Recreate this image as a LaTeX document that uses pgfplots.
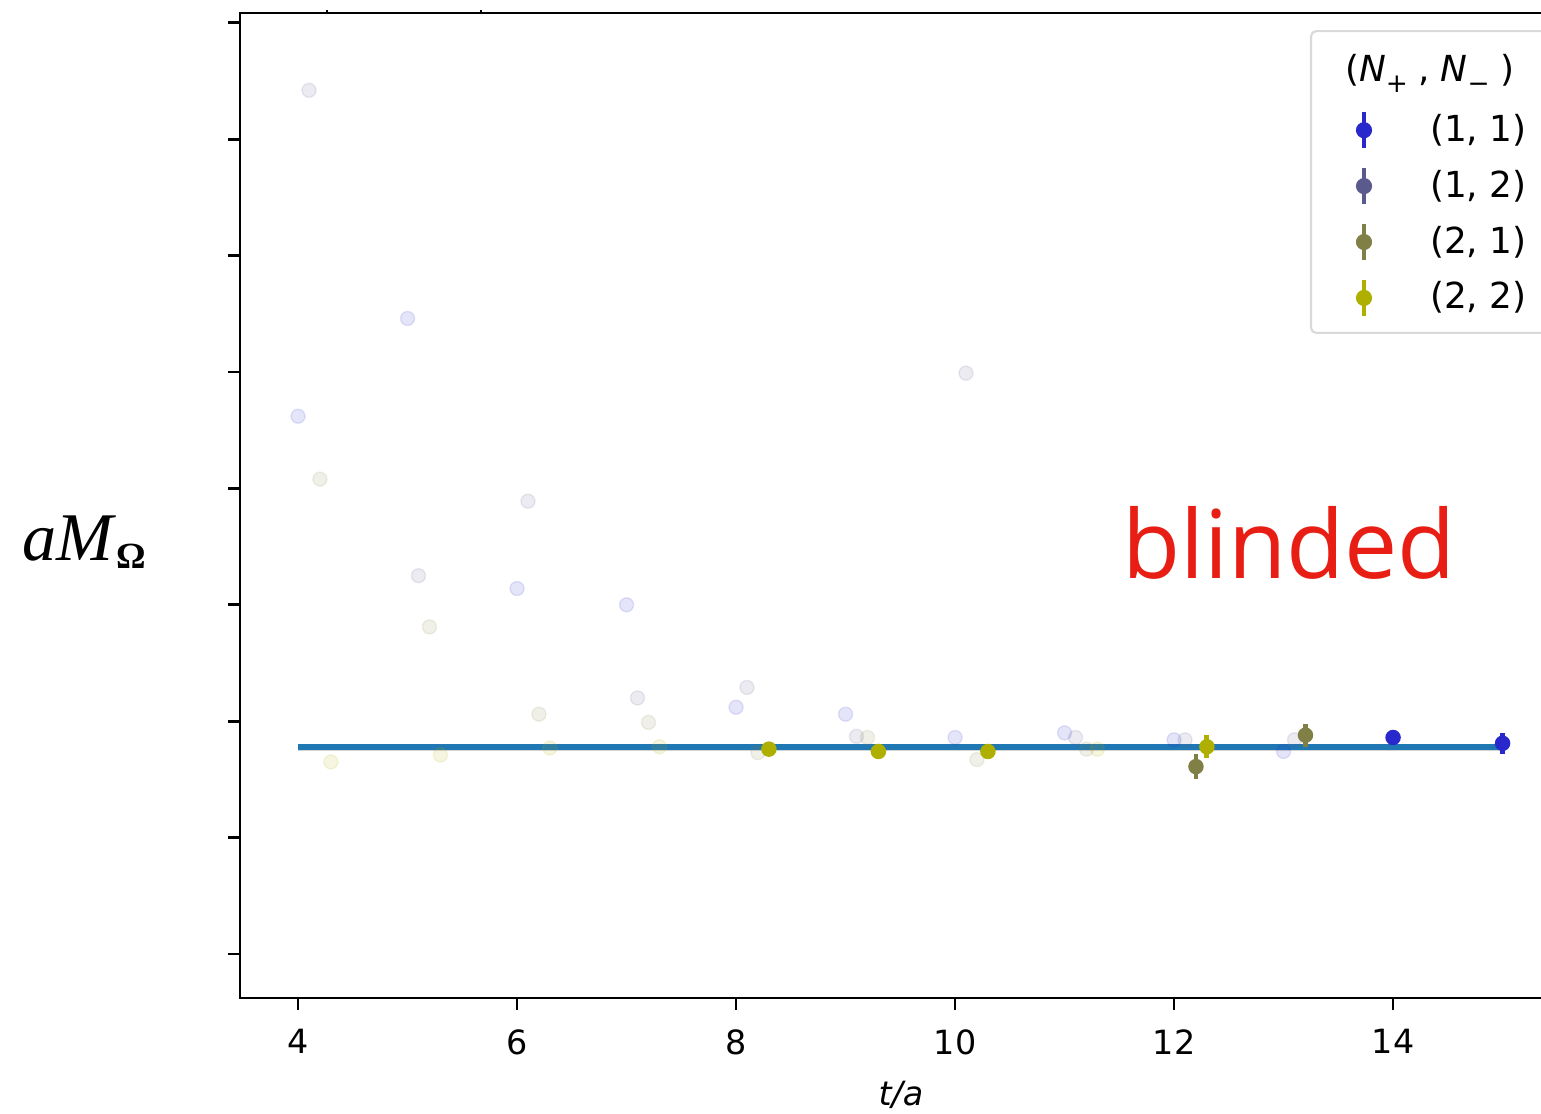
\documentclass[border=0pt]{standalone}
\usepackage{fontspec}
\setmainfont{DejaVu Sans}
\newfontfamily\serifx{Liberation Serif}
\newfontfamily\blindfont{Open Sans}
\usepackage{pgfplots}
\pgfplotsset{compat=1.18}
\definecolor{c11}{RGB}{40,40,205}
\definecolor{c12}{RGB}{90,90,140}
\definecolor{c21}{RGB}{128,128,70}
\definecolor{c22}{RGB}{175,175,0}
\definecolor{fitblue}{RGB}{31,119,180}
\definecolor{blindred}{RGB}{232,30,20}
\pgfplotsset{
  leg11/.style={legend image code/.code={\path (0mm,0mm) (6mm,0mm); \draw[c11, line width=1.4pt] (3.2mm,-1.8mm) -- (3.2mm,1.8mm); \fill[c11] (3.2mm,0mm) circle (0.7mm);}},
  leg12/.style={legend image code/.code={\path (0mm,0mm) (6mm,0mm); \draw[c12, line width=1.4pt] (3.2mm,-1.8mm) -- (3.2mm,1.8mm); \fill[c12] (3.2mm,0mm) circle (0.7mm);}},
  leg21/.style={legend image code/.code={\path (0mm,0mm) (6mm,0mm); \draw[c21, line width=1.4pt] (3.2mm,-1.8mm) -- (3.2mm,1.8mm); \fill[c21] (3.2mm,0mm) circle (0.7mm);}},
  leg22/.style={legend image code/.code={\path (0mm,0mm) (6mm,0mm); \draw[c22, line width=1.4pt] (3.2mm,-1.8mm) -- (3.2mm,1.8mm); \fill[c22] (3.2mm,0mm) circle (0.7mm);}},
  legtitle/.style={legend image code/.code={\path (0mm,-2.35mm) (0mm,2.35mm);}},
  faint/.style={only marks, mark=*, mark size=2pt, mark options={fill=#1, draw=#1, opacity=0.12}, forget plot},
  bold/.style={only marks, mark=*, mark size=2pt, color=#1, mark options={fill=#1, draw=#1}, forget plot,
     error bars/.cd, y dir=both, y explicit, error mark=none, error bar style={line width=1.4pt, color=#1}},
}
\begin{document}
\begin{tikzpicture}
\path[use as bounding box] (0,0) rectangle (15.41,11.13);
\clip (0,0) rectangle (15.41,11.13);
\begin{axis}[
  at={(2.40cm,1.15cm)}, anchor=south west,
  scale only axis, width=13.228cm, height=9.85cm,
  xmin=3.47, xmax=15.55, ymin=-0.378, ymax=8.084,
  xtick={4,6,8,10,12,14}, ytick={0,1,2,3,4,5,6,7,8}, yticklabels={},
  xtick pos=left, ytick pos=left, tick align=outside,
  major tick length=0.12cm,
  axis line style={line width=0.8pt},
  every tick/.style={black, line width=0.8pt},
  ticklabel style={font=\fontsize{9.5}{11}\selectfont},
  xticklabel style={yshift=-0.07cm},
  /pgf/number format/assume math mode=true,
  legend cell align=left,
  legend style={at={(0.8088,0.9827)}, anchor=north west, draw=black!15, line width=0.6pt,
    rounded corners=1.5pt, inner xsep=2mm, inner ysep=1.45mm, row sep=1.5mm, column sep=3.7mm,
    font=\fontsize{10.2}{12}\selectfont,
    nodes={inner sep=0pt, text height=2.4mm, text depth=0.2mm}},
]
\addplot[draw=none, fill=gray, fill opacity=0.35, forget plot] coordinates {(4,1.745) (15,1.745) (15,1.775) (4,1.775)} -- cycle;
\addplot[color=fitblue, line width=1.7pt, forget plot] coordinates {(4,1.775) (15,1.775)};
\addplot[faint=c11] coordinates {(4,4.62) (5,5.46) (6,3.14) (7,3.00) (8,2.12) (9,2.06) (10,1.86) (11,1.90) (12,1.84) (13,1.74)};
\addplot[faint=c12] coordinates {(4.1,7.42) (5.1,3.25) (6.1,3.89) (7.1,2.20) (8.1,2.29) (9.1,1.87) (10.1,4.99) (11.1,1.86) (12.1,1.84) (13.1,1.84)};
\addplot[faint=c21] coordinates {(4.2,4.08) (5.2,2.81) (6.2,2.06) (7.2,1.99) (8.2,1.73) (9.2,1.86) (10.2,1.67) (11.2,1.76)};
\addplot[faint=c22] coordinates {(4.3,1.65) (5.3,1.71) (6.3,1.77) (7.3,1.78) (11.3,1.76)};
\addplot[bold=c11] coordinates {(14,1.86) +- (0,0.03) (15,1.81) +- (0,0.09)};
\addplot[bold=c21] coordinates {(12.2,1.61) +- (0,0.11) (13.2,1.88) +- (0,0.10)};
\addplot[bold=c22] coordinates {(8.3,1.76) +- (0,0.03) (9.3,1.74) +- (0,0.03) (10.3,1.74) +- (0,0.03) (12.3,1.78) +- (0,0.10)};
\addlegendimage{legtitle}
\addlegendentry{\hspace*{-8.5mm}(\textit{N}\raisebox{-0.6ex}{\fontsize{7.5}{8}\selectfont +}\hspace{0.3em},\hspace{0.3em}\textit{N}\raisebox{-0.6ex}{\fontsize{7.5}{8}\selectfont −}\hspace{0.3em})}
\addlegendimage{leg11}
\addlegendentry{(1, 1)}
\addlegendimage{leg12}
\addlegendentry{(1, 2)}
\addlegendimage{leg21}
\addlegendentry{(2, 1)}
\addlegendimage{leg22}
\addlegendentry{(2, 2)}
\end{axis}
\begin{axis}[
  at={(2.40cm,1.15cm)}, anchor=south west,
  scale only axis, width=13.228cm, height=9.85cm,
  xmin=3.47, xmax=15.55, ymin=-0.378, ymax=8.084,
  hide y axis, axis x line*=top,
  xtick={4.265,5.671}, xticklabels={},
  tick align=outside, major tick length=0.03cm,
  axis line style={line width=0.8pt, -},
  every tick/.style={black, line width=0.8pt},
]
\end{axis}
\node[anchor=base, inner sep=0pt, font=\fontsize{9.5}{11}\selectfont] at (9.01,0.08) {\textit{t/a}};
\node[anchor=base west, inner sep=0pt] at (0.22,5.53) {\serifx\fontsize{19.4}{22}\selectfont\textit{aM}\raisebox{-0.8mm}{\fontsize{10.5}{12}\selectfont\bfseries Ω}};
\node[anchor=base, inner sep=0pt, text=blindred] at (12.89,5.35) {\blindfont\fontsize{27}{30}\selectfont blinded};
\end{tikzpicture}
\end{document}
